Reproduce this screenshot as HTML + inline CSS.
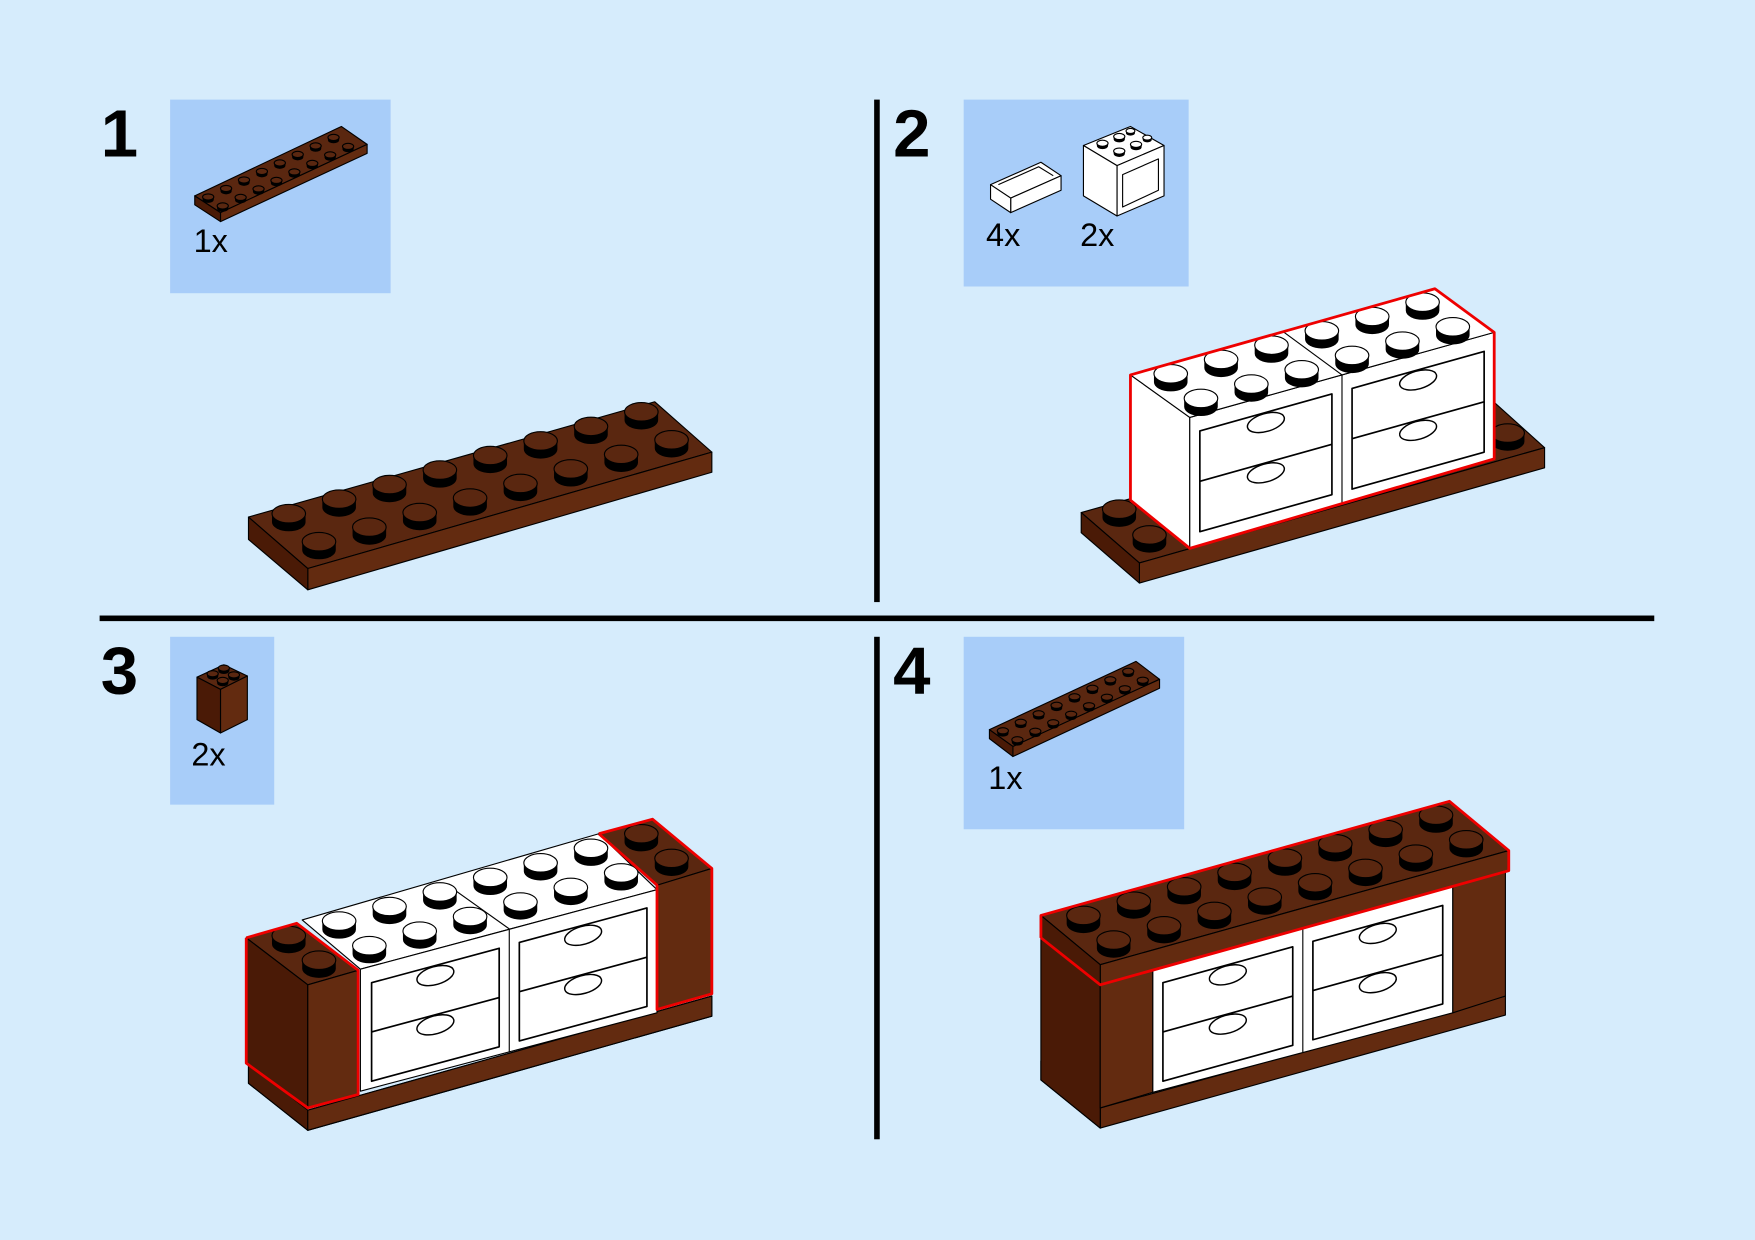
<!DOCTYPE html>
<html><head><meta charset="utf-8"><style>
html,body{margin:0;padding:0;background:#d6ecfc;}
svg{display:block}
text{font-family:"Liberation Sans",sans-serif}
</style></head><body>
<svg id="s" width="1755" height="1240" viewBox="0 0 1568 1108" preserveAspectRatio="none" xmlns="http://www.w3.org/2000/svg">
<rect x="0" y="0" width="1568" height="1108" fill="#d6ecfc"/>
<rect x="152" y="89" width="197" height="173" fill="#a8cdf9"/>
<rect x="861" y="89" width="201" height="167" fill="#a8cdf9"/>
<rect x="152" y="569" width="93" height="150" fill="#a8cdf9"/>
<rect x="861" y="569" width="197" height="172" fill="#a8cdf9"/>
<rect x="781" y="89" width="5" height="449" fill="#000"/>
<rect x="781" y="569" width="5" height="449" fill="#000"/>
<rect x="89" y="550" width="1389" height="5" fill="#000"/>
<text x="90" y="140" font-size="60" font-weight="bold">1</text>
<text x="798" y="140" font-size="60" font-weight="bold">2</text>
<text x="90" y="620" font-size="60" font-weight="bold">3</text>
<text x="798" y="620" font-size="60" font-weight="bold">4</text>
<text x="173" y="225" font-size="29">1x</text>
<text x="881" y="220" font-size="29">4x</text>
<text x="965" y="220" font-size="29">2x</text>
<text x="171" y="684" font-size="29">2x</text>
<text x="883" y="705" font-size="29">1x</text>
<g id="g"></g>
</svg>
<script>
var g=document.getElementById('g'),h='';
var TOP='#5a2710',FR='#632b10',SD='#4a1a06';
function P(pts,f,st,sw){h+='<polygon points="'+pts+'" fill="'+f+'" stroke="'+(st||'#000')+'" stroke-width="'+(sw||1)+'" stroke-linejoin="round"/>';}
function L(pts,c,w){h+='<polyline points="'+pts+'" fill="none" stroke="'+c+'" stroke-width="'+w+'" stroke-linejoin="round"/>';}
function stud(x,y,top,r){r=r||15;var ry=r*0.55,d=r*0.5;
 h+='<path d="M'+(x-r)+' '+y+' L'+(x-r)+' '+(y+d)+' A'+r+' '+ry+' 0 0 0 '+(x+r)+' '+(y+d)+' L'+(x+r)+' '+y+' Z" fill="#000"/>';
 h+='<ellipse cx="'+x+'" cy="'+y+'" rx="'+r+'" ry="'+ry+'" fill="'+top+'" stroke="#000" stroke-width="1"/>';}
function row(x,y,dx,dy,n,top,r){for(var i=0;i<n;i++)stud(x+dx*i,y+dy*i,top,r);}
// drawers within front face: L,R x; yt top at L; s slope; H height
function cab(Lx,Rx,yt,s,H){var w=Rx-Lx,e=s*w;
 var t=yt+14,b=yt+H-8;var m=(t+b)/2;
 var x1=Lx+7,x2=Rx-7;
 P(x1+','+(t+s*7)+' '+x2+','+(t+s*(w-7))+' '+x2+','+(b+s*(w-7))+' '+x1+','+(b+s*7),'#fff','#000',1.5);
 L(x1+','+(m+s*7)+' '+x2+','+(m+s*(w-7)),'#000',1.5);
 var cx=(Lx+Rx)/2;
 [t,m].forEach(function(yy){var cy=yy+s*(w/2)+9;h+='<ellipse cx="'+cx+'" cy="'+cy+'" rx="17" ry="8" transform="rotate(-16 '+cx+' '+cy+')" fill="#fff" stroke="#000" stroke-width="1.3"/>';});
}
// ---- STEP 1 ----
P('222,462 585,359 636,404 275,508',TOP);
P('275,508 636,404 636,422 275,527',FR);
P('222,462 275,508 275,527 222,482',SD);
row(258,459,45,-13,8,TOP);row(285,484,45,-13,8,TOP);
// icon plate 1
P('174,175 305,113 328,129 197,190',TOP);P('197,190 328,129 328,137 197,198',FR);P('174,175 197,190 197,198 174,183',SD);
row(186,176,16,-7.6,8,TOP,5);row(199,184,16,-7.6,8,TOP,5);
// icon plate 4
P('884,652 1015,591 1036,607 905,667',TOP);P('905,667 1036,607 1036,615 905,676',FR);P('884,652 905,667 905,676 884,660',SD);
row(896,653,16,-7.6,8,TOP,5);row(909,661,16,-7.6,8,TOP,5);
// icon brick 3
P('176,605 200,594 221,604 197,616',TOP);P('197,616 221,604 221,643 197,655',FR);P('176,605 197,616 197,655 176,643',SD);
stud(190,602,TOP,5);stud(200,597,TOP,5);stud(199,608,TOP,5);stud(209,603,TOP,5);
// icon drawer
P('885,165 930,145 948,157 903,177','#fff');P('903,177 948,157 948,170 903,190','#fff');P('885,165 903,177 903,190 885,178','#fff');
L('892,165 928,149 941,157','#000',1);
// icon cabinet
P('968,130 1010,113 1040,130 998,148','#fff');P('998,148 1040,130 1040,175 998,193','#fff');P('968,130 998,148 998,193 968,175','#fff');
P('1003,156 1035,142 1035,170 1003,185','#fff');
stud(985,128,'#fff',5);stud(1000,122,'#fff',5);stud(1000,135,'#fff',5);stud(1015,129,'#fff',5);stud(1010,117,'#fff',4);stud(1025,123,'#fff',4);
// ---- STEP 2 ----
P('966,458 1330,355 1380,400 1018,503',TOP);
P('1018,503 1380,400 1380,418 1018,521',FR);
P('966,458 1018,503 1018,521 966,476',SD);
stud(1000,455,TOP);stud(1027,478,TOP);stud(1347,387,TOP);
P('1010,335 1063,373 1063,490 1010,447','#fff');
P('1063,373 1335,297 1335,410 1063,490','#fff');
P('1010,335 1282,258 1335,297 1063,373','#fff');
L('1199,335 1199,451','#000',1);L('1146,296 1199,335','#000',1);
cab(1065,1197,373,-0.28,112);cab(1201,1333,335,-0.28,112);
row(1046,334,45,-12.8,6,'#fff');row(1073,356,45,-12.8,6,'#fff');
L('1010,447 1010,335 1282,258 1335,297 1335,410 1063,490 1010,447','#e00',2.5);
// ---- STEP 3 ----
P('222,950 275,992 636,890 636,908 275,1010 222,968',FR);
P('222,950 275,992 275,1010 222,968',SD);
P('275,992 636,890 636,908 275,1010',FR);
// white cabinet
P('270,822 535,745 587,795 322,866','#fff');
P('322,866 587,795 587,905 322,975','#fff');
L('455,830 455,940','#000',1);L('403,793 455,830','#000',1);
cab(325,453,866,-0.27,110);cab(457,585,830,-0.27,110);
row(303,823,45,-13,6,'#fff');row(330,845,45,-13,6,'#fff');
// left brick
P('220,838 265,825 320,867 275,880',TOP);
P('220,838 275,880 275,990 220,950',SD);
P('275,880 320,867 320,978 275,990',FR);
stud(258,836,TOP);stud(285,858,TOP);
// right brick
P('535,745 583,732 636,776 587,791',TOP);
P('587,791 636,776 636,888 587,902',FR);
stud(573,745,TOP);stud(600,767,TOP);
L('220,838 265,825 320,867 320,978 275,990 220,950 220,838','#e00',2.5);
L('535,745 583,732 636,776 636,888 587,902 587,791 535,745','#e00',2.5);
// ---- STEP 4 ----
P('983,990 1345,890 1345,907 983,1008',FR);
P('930,965 983,1008 983,990 930,948',SD);
P('930,838 983,880 983,1008 930,965',SD);
P('983,880 1030,866 1030,976 983,990',FR);
P('1030,866 1298,792 1298,905 1030,976','#fff');
L('1164,829 1164,940','#000',1);
cab(1032,1162,866,-0.276,110);cab(1166,1296,829,-0.276,110);
P('1298,792 1345,778 1345,890 1298,905',FR);
P('930,818 1295,716 1348,760 983,862',TOP);
P('983,862 1348,760 1348,778 983,880',FR);
P('930,818 983,862 983,880 930,838',SD);
row(968,818,45,-12.8,8,TOP);row(995,840,45,-12.8,8,TOP);
L('930,838 930,818 1295,716 1348,760 1348,778 983,880 930,838','#e00',2.5);
g.innerHTML=h;
</script>
</body></html>
